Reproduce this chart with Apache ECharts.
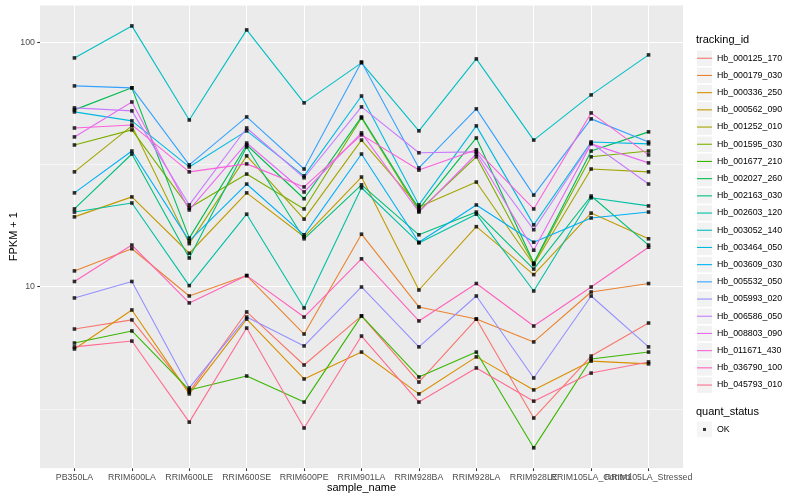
<!DOCTYPE html>
<html><head><meta charset="utf-8">
<script src="https://cdn.jsdelivr.net/npm/echarts@6/dist/echarts.min.js"></script>
<style>html,body{margin:0;padding:0;background:#fff}#c{width:800px;height:500px}</style>
</head><body><div id="c"></div>
<script>
const categories = ['PB350LA','RRIM600LA','RRIM600LE','RRIM600SE','RRIM600PE','RRIM901LA','RRIM928BA','RRIM928LA','RRIM928LE','RRIM105LA_Control','RRIM105LA_Stressed'];
const trackingIds = ['Hb_000125_170','Hb_000179_030','Hb_000336_250','Hb_000562_090','Hb_001252_010','Hb_001595_030','Hb_001677_210','Hb_002027_260','Hb_002163_030','Hb_002603_120','Hb_003052_140','Hb_003464_050','Hb_003609_030','Hb_005532_050','Hb_005993_020','Hb_006586_050','Hb_008803_090','Hb_011671_430','Hb_036790_100','Hb_045793_010'];
const colors = ['#F8766D','#EA8331','#D89000','#C09B00','#A3A500','#7CAE00','#39B600','#00BB4E','#00BF7D','#00C1A3','#00BFC4','#00BAE0','#00B0F6','#35A2FF','#9590FF','#C77CFF','#E76BF3','#FA62DB','#FF62BC','#FF6C91'];
const yTickValues = [10, 100];

const Hb_000125_170 = [6.71, 7.31, 3.71, 7.88, 4.78, 7.59, 4.07, 7.37, 2.90, 5.20, 7.10];
const Hb_000179_030 = [11.6, 14.3, 9.16, 11.1, 6.40, 16.4, 8.26, 7.37, 5.94, 9.51, 10.3];
const Hb_000336_250 = [5.56, 8.03, 3.64, 7.37, 4.19, 5.40, 3.64, 5.16, 3.78, 4.96, 4.83];
const Hb_000562_090 = [19.3, 23.3, 13.7, 24.2, 16.0, 28.1, 9.69, 17.6, 11.2, 20.0, 15.7];
const Hb_001252_010 = [29.5, 45.5, 15.0, 34.3, 18.9, 39.8, 21.2, 26.8, 12.3, 30.3, 29.5];
const Hb_001595_030 = [38.0, 43.8, 21.0, 28.9, 20.8, 49.0, 20.4, 34.0, 12.4, 34.0, 35.9];
const Hb_001677_210 = [5.88, 6.59, 3.78, 4.31, 3.37, 7.59, 4.27, 5.40, 2.19, 5.06, 5.40];
const Hb_002027_260 = [52.9, 65.1, 15.8, 38.0, 22.9, 49.5, 20.8, 40.6, 12.5, 35.9, 43.0];
const Hb_002163_030 = [20.8, 34.9, 13.1, 37.3, 15.7, 26.1, 16.3, 20.2, 11.8, 23.5, 14.8];
const Hb_002603_120 = [20.2, 22.0, 10.1, 19.8, 8.18, 25.4, 15.1, 19.8, 9.60, 23.1, 21.4];
const Hb_003052_140 = [86.3, 116.7, 48.1, 112.4, 56.5, 82.4, 43.4, 85.5, 39.8, 60.9, 88.8];
const Hb_003464_050 = [51.9, 47.7, 30.9, 43.4, 28.4, 60.3, 21.6, 45.5, 17.9, 39.1, 38.4];
const Hb_003609_030 = [24.2, 35.9, 15.4, 26.3, 16.3, 34.9, 15.2, 21.6, 15.2, 19.1, 20.2];
const Hb_005532_050 = [66.3, 65.1, 31.5, 49.5, 30.3, 83.1, 30.6, 53.4, 23.7, 48.6, 39.1];
const Hb_005993_020 = [8.99, 10.5, 3.85, 7.51, 5.72, 9.97, 5.67, 9.16, 4.23, 9.16, 5.67];
const Hb_006586_050 = [53.9, 52.4, 21.6, 44.6, 27.9, 54.4, 35.3, 35.6, 17.1, 38.7, 26.3];
const Hb_008803_090 = [41.0, 57.0, 20.6, 38.7, 24.4, 42.6, 20.2, 34.9, 14.1, 38.4, 32.1];
const Hb_011671_430 = [44.6, 45.9, 29.5, 31.8, 25.6, 41.8, 30.0, 36.3, 20.8, 51.4, 34.6];
const Hb_036790_100 = [10.5, 14.8, 8.58, 11.1, 7.51, 13.0, 7.24, 10.3, 6.90, 9.97, 14.5];
const Hb_045793_010 = [5.67, 5.99, 2.79, 6.77, 2.64, 6.28, 3.37, 4.65, 3.40, 4.43, 4.92];

const seriesValues = [Hb_000125_170, Hb_000179_030, Hb_000336_250, Hb_000562_090, Hb_001252_010, Hb_001595_030, Hb_001677_210, Hb_002027_260, Hb_002163_030, Hb_002603_120, Hb_003052_140, Hb_003464_050, Hb_003609_030, Hb_005532_050, Hb_005993_020, Hb_006586_050, Hb_008803_090, Hb_011671_430, Hb_036790_100, Hb_045793_010];

const FONT = 'Liberation Sans, Arial, Helvetica, sans-serif';
const catIdx = categories.map((c, i) => i);
const lastIdx = catIdx.length - 1;
const toPairs = vals => vals.map((v, i) => [i, v]);

const lineSeries = trackingIds.map((id, k) => ({
  type: 'line', name: id, data: toPairs(seriesValues[k]),
  xAxisIndex: 0, yAxisIndex: 0,
  showSymbol: false, symbol: 'none', silent: true, z: 2,
  lineStyle: { color: colors[k], width: 1.1 },
  itemStyle: { color: colors[k] },
  emphasis: { disabled: true }
}));
const pointSeries = trackingIds.map((id, k) => ({
  type: 'scatter', name: 'OK', data: toPairs(seriesValues[k]),
  xAxisIndex: 0, yAxisIndex: 0,
  symbol: 'rect', symbolSize: 3.6, silent: true, z: 3,
  itemStyle: { color: '#000' },
  emphasis: { disabled: true }
}));

const legendBase = {
  orient: 'vertical', left: 697, padding: 0, itemWidth: 15, itemHeight: 15.5, itemGap: 1.7,
  selectedMode: false
};
const xLabelStyle = { fontSize: 8.8, color: '#4D4D4D', margin: 5, fontFamily: FONT, formatter: v => categories[Math.round(v)] };
// extra label-only x axes so the two overlapping right-hand labels are both drawn (as in the source)
const labelOnlyAxis = idx => ({
  type: 'value', min: -0.6, max: 10.6, position: 'bottom', offset: 0,
  axisLine: { show: false, onZero: false },
  axisTick: { show: false, customValues: [idx] },
  axisLabel: Object.assign({ customValues: [idx] }, xLabelStyle),
  splitLine: { show: false }
});

const chart = echarts.init(document.getElementById('c'), null, { renderer: 'canvas' });
chart.setOption({
  animation: false,
  backgroundColor: '#FFFFFF',
  textStyle: { fontFamily: FONT },
  title: [
    { text: 'tracking_id', left: 696, top: 34.5, padding: 0, textStyle: { fontSize: 11, fontWeight: 'normal', color: '#000', fontFamily: FONT } },
    { text: 'quant_status', left: 696, top: 406, padding: 0, textStyle: { fontSize: 11, fontWeight: 'normal', color: '#000', fontFamily: FONT } }
  ],
  grid: { left: 40, top: 5, width: 643, height: 463.3, show: true, backgroundColor: '#EBEBEB', borderWidth: 0, containLabel: false, outerBoundsMode: 'none' },
  xAxis: [
    {
      type: 'value', min: -0.6, max: 10.6, position: 'bottom', offset: 0,
      name: 'sample_name', nameLocation: 'middle', nameGap: 14, nameMoveOverlap: false,
      nameTextStyle: { fontSize: 11, color: '#000', fontFamily: FONT },
      axisLine: { show: false, onZero: false },
      axisTick: { show: true, length: 2.75, customValues: catIdx, lineStyle: { color: '#333333', width: 1.07 } },
      axisLabel: Object.assign({ customValues: catIdx.slice(0, lastIdx - 1) }, xLabelStyle),
      splitLine: { show: true, lineStyle: { color: '#FFFFFF', width: 1.07 } }
    },
    labelOnlyAxis(lastIdx - 1),
    labelOnlyAxis(lastIdx)
  ],
  yAxis: [
    {
      type: 'log', logBase: 10, min: 1.806, max: 142.1,
      name: 'FPKM + 1', nameLocation: 'middle', nameGap: 21, nameMoveOverlap: false,
      nameTextStyle: { fontSize: 11, color: '#000', fontFamily: FONT },
      axisLine: { show: false, onZero: false },
      axisTick: { show: true, length: 2.75, customValues: yTickValues, lineStyle: { color: '#333333', width: 1.07 } },
      axisLabel: { customValues: yTickValues, fontSize: 8.8, color: '#4D4D4D', margin: 5, fontFamily: FONT },
      splitLine: { show: true, lineStyle: { color: '#FFFFFF', width: 1.07 } }
    },
    {
      type: 'log', logBase: Math.sqrt(10), min: 1.806, max: 142.1,
      axisLine: { show: false, onZero: false }, axisTick: { show: false }, axisLabel: { show: false },
      splitLine: { show: true, lineStyle: { color: '#FFFFFF', width: 0.53 } }
    }
  ],
  legend: [
    Object.assign({}, legendBase, {
      top: 50.5, z: 1, icon: 'rect', data: trackingIds,
      itemStyle: { color: '#F2F2F2', borderWidth: 0 },
      textStyle: { color: 'rgba(0,0,0,0)', fontSize: 8.8, fontFamily: FONT }
    }),
    Object.assign({}, legendBase, {
      top: 50.5, z: 2, icon: 'path://M0,0M0,7.2h15v1.1h-15zM15,15.5',
      data: trackingIds.map((id, k) => ({ name: id, itemStyle: { color: colors[k], borderWidth: 0 } })),
      textStyle: { color: '#000', fontSize: 8.8, fontFamily: FONT }
    }),
    Object.assign({}, legendBase, {
      top: 421.7, z: 1, icon: 'rect', data: ['OK'],
      itemStyle: { color: '#F2F2F2', borderWidth: 0 },
      textStyle: { color: 'rgba(0,0,0,0)', fontSize: 8.8, fontFamily: FONT }
    }),
    Object.assign({}, legendBase, {
      top: 421.7, z: 2, icon: 'path://M0,0M6,6.25h3v3h-3zM15,15.5', data: ['OK'],
      itemStyle: { color: '#000', borderWidth: 0 },
      textStyle: { color: '#000', fontSize: 8.8, fontFamily: FONT }
    })
  ],
  series: lineSeries.concat(pointSeries)
});
</script></body></html>
